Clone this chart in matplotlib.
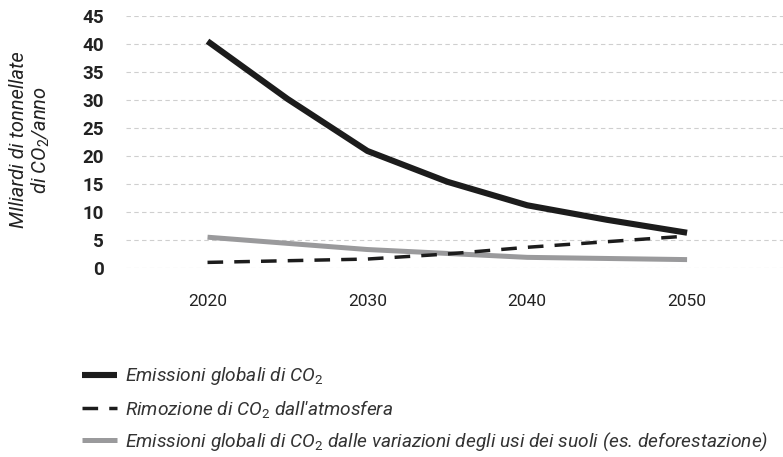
import matplotlib
matplotlib.use("Agg")
import matplotlib.pyplot as plt
from matplotlib.lines import Line2D

plt.rcParams["font.family"] = ["Roboto", "DejaVu Sans"]
plt.rcParams["mathtext.fontset"] = "custom"
plt.rcParams["mathtext.it"] = "Roboto:italic"
plt.rcParams["mathtext.rm"] = "Roboto"

# data
years = [2020, 2025, 2030, 2035, 2040, 2045, 2050]
emissioni = [40.5, 30.2, 20.9, 15.4, 11.2, 8.6, 6.3]
rimozione = [1.0, 1.3, 1.6, 2.5, 3.7, 4.7, 5.7]
suoli = [5.5, 4.4, 3.3, 2.6, 1.9, 1.7, 1.5]

xticks = [2020, 2030, 2040, 2050]
yticks = list(range(0, 50, 5))

labels = [
    r"Emissioni globali di CO$_\mathit{2}$",
    r"Rimozione di CO$_\mathit{2}$ dall'atmosfera",
    r"Emissioni globali di CO$_\mathit{2}$ dalle variazioni degli usi dei suoli (es. deforestazione)",
]

fig = plt.figure(figsize=(7.83, 4.57), dpi=100)
ax = fig.add_axes([126 / 783, 1 - 268 / 457, 1 - 126 / 783, 252 / 457])

# grid lines
for y in yticks:
    ax.axhline(y, color="#cfcfcf", linestyle=(0, (4, 3)), linewidth=0.8, zorder=0)

ax.plot(years, suoli, color="#9a9a9c", linewidth=3.6, solid_capstyle="butt", clip_on=False)
ax.plot(years, rimozione, color="#1c1c1c", linewidth=2.5, linestyle=(0, (4.5, 3.2)),
        dash_capstyle="butt", clip_on=False)
ax.plot(years, emissioni, color="#1c1c1c", linewidth=4.4, solid_capstyle="butt",
        solid_joinstyle="round", clip_on=False)

ax.set_xlim(2014.9, 2056.0)
ax.set_ylim(0, 45)
ax.set_xticks(xticks)
ax.set_yticks(yticks)
ax.tick_params(axis="both", length=0)
ax.tick_params(axis="x", pad=19, labelsize=12.5, labelcolor="#222222")
ax.tick_params(axis="y", pad=16, labelsize=13.5, labelcolor="#222222")
for t in ax.get_yticklabels():
    t.set_fontweight("bold")
for s in ax.spines.values():
    s.set_visible(False)

fig.text(31 / 783, 1 - 140 / 457,
         "MIliardi di tonnellate\ndi CO$_\\mathit{2}$/anno",
         rotation=90, ha="center", va="center", multialignment="center",
         fontsize=14.5, style="italic", color="#222222", linespacing=1.1)

handles = [
    Line2D([], [], color="#1c1c1c", linewidth=4.4, solid_capstyle="butt"),
    Line2D([], [], color="#1c1c1c", linewidth=2.5, linestyle=(0, (4.5, 3.2)), dash_capstyle="butt"),
    Line2D([], [], color="#9a9a9c", linewidth=3.6, solid_capstyle="butt"),
]
leg = fig.legend(handles, labels, loc="upper left", bbox_to_anchor=(69 / 783, 1 - 352 / 457),
                 frameon=False, handlelength=1.8, handletextpad=0.4, labelspacing=0.55,
                 borderpad=0.2, prop={"size": 13.8, "style": "italic"})
for t in leg.get_texts():
    t.set_color("#333333")

fig.savefig("out.png", dpi=100)
